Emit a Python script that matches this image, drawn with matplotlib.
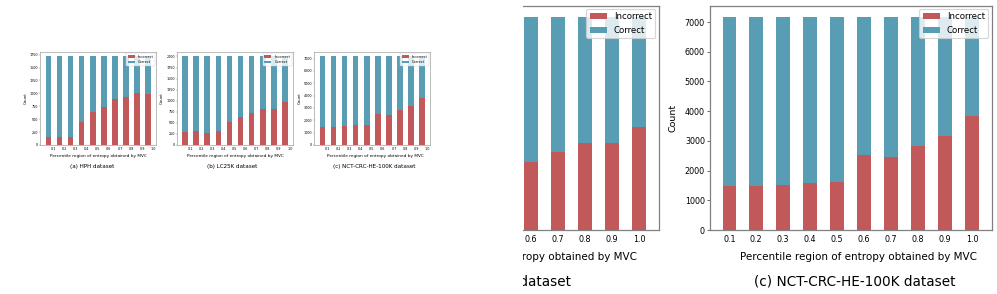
import matplotlib.pyplot as plt
import numpy as np
from matplotlib.patches import Rectangle

# x categories (percentile regions of entropy)
regions = ['0.1', '0.2', '0.3', '0.4', '0.5', '0.6', '0.7', '0.8', '0.9', '1.0']

# incorrect counts per region, total per region
hph_incorrect = [160, 160, 160, 448, 638, 733, 900, 926, 998, 988]
hph_total = 1715
lc_incorrect = [290, 310, 282, 306, 527, 642, 733, 820, 820, 964]
lc_total = 2000
nct_incorrect = [1483, 1494, 1528, 1596, 1607, 2528, 2449, 2843, 3180, 3820]
nct_total = 7180

hph_yticks = [0, 250, 500, 750, 1000, 1250, 1500, 1750]
lc_yticks = [0, 250, 500, 750, 1000, 1250, 1500, 1750, 2000]
nct_yticks = [0, 1000, 2000, 3000, 4000, 5000, 6000, 7000]

captions = ['(a) HPH dataset', '(b) LC25K dataset', '(c) NCT-CRC-HE-100K dataset']
xlabel = 'Percentile region of entropy obtained by MVC'

RED = '#c1585a'
BLUE = '#599db5'
W, H = 997, 294
PT = 72 / 100  # points per pixel

fig = plt.figure(figsize=(W / 100, H / 100), dpi=100)


def panel(rect, incorrect, total, yticks, caption, s, dx_lab, dx_cap,
          shift=0.0, zorder=2, cut=False):
    l, t, w, h = rect
    ax = fig.add_axes([l / W, 1 - (t + h) / H, w / W, h / H], zorder=zorder)
    x = np.arange(len(regions))
    correct = [total - v for v in incorrect]
    ax.bar(x, incorrect, 0.5, color=RED, label='Incorrect')
    ax.bar(x, correct, 0.5, bottom=incorrect, color=BLUE, label='Correct')
    ax.set_xticks(x + shift)
    ax.set_xticklabels(regions)
    ax.set_yticks(yticks)
    ax.tick_params(axis='x', length=0, labelsize=5.8 * s, pad=3.6 * s)
    ax.tick_params(axis='y', length=2.2 * s, width=0.7 * s, labelsize=5.8 * s,
                   pad=1.2 * s, color='0.4')
    for sp in ax.spines.values():
        sp.set_color('0.5')
        sp.set_linewidth(0.9 * s)
    if cut:
        # left part of this panel is hidden behind the white cover anyway
        ax.tick_params(axis='y', labelleft=False, left=False)
        for lab in ax.get_xticklabels()[:5]:
            lab.set_visible(False)
    else:
        ax.annotate('Count', (0, 0.5), xycoords='axes fraction',
                    xytext=(-36.4 * PT * s, 0), textcoords='offset points',
                    rotation=90, ha='center', va='center', fontsize=6.8 * s)
    ax.annotate(xlabel, (0.5, 0), xycoords='axes fraction',
                xytext=(dx_lab * PT * s, -26.7 * PT * s), textcoords='offset points',
                ha='center', va='center', fontsize=7.5 * s)
    ax.annotate(caption, (0.5, 0), xycoords='axes fraction',
                xytext=(dx_cap * PT * s, -51.7 * PT * s), textcoords='offset points',
                ha='center', va='center', fontsize=9.8 * s)
    leg = ax.legend(loc='upper right', fontsize=6.2 * s, borderaxespad=0.35,
                    handlelength=2.0)
    leg.get_frame().set_linewidth(0.8 * s)
    return ax


# small overview of the three panels
k = 1 / 2.42
panel((40.3, 52, 116, 93), hph_incorrect, hph_total, hph_yticks, captions[0], k,
      1.2, -16, shift=0.45)
panel((177, 52, 116, 93), lc_incorrect, lc_total, lc_yticks, captions[1], k,
      1.2, -8, shift=0.45)
panel((314.3, 52, 116, 93), nct_incorrect, nct_total, nct_yticks, captions[2], k,
      8.2, 4.4, shift=0.45)

# zoomed view on the right, cut off on its left side
panel((376.7, 6, 281.8, 224), lc_incorrect, lc_total, lc_yticks, captions[1], 1.0,
      1.2, -8, zorder=0, cut=True)
panel((709.7, 6, 281.8, 224), nct_incorrect, nct_total, nct_yticks, captions[2], 1.0,
      8.2, 4.4, zorder=0)

fig.patches.append(Rectangle((0, 0), 522.5 / W, 1, transform=fig.transFigure,
                             facecolor='white', edgecolor='none', zorder=1))

fig.savefig('out.png', dpi=100)
